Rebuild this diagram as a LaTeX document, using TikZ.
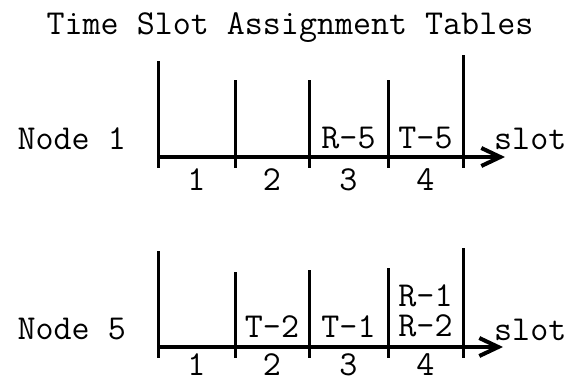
\documentclass[tikz,border=0pt]{standalone}
\usepackage{fontspec}
\usetikzlibrary{arrows.meta}
\tikzset{
  txt/.style={font=\ttfamily\fontsize{35}{30}\selectfont, anchor=base, inner sep=0pt},
  divider/.style={line width=3pt},
  timeaxis/.style={line width=4pt, -{Straight Barb[length=19pt,width=18pt]}},
}
\begin{document}
\begin{tikzpicture}[x=1pt,y=-1pt]
  \useasboundingbox (0,0) rectangle (571,383);
  \node[txt] (title) at (290,34) {Time Slot Assignment Tables};

  % table of node 1
  \coordinate (s1) at (158,157);
  \coordinate (e1) at (505,157);
  \foreach \x/\top [count=\i] in {158/61,235/80,309/80,388/80,463/55}
    \draw[divider] (\x,\top) coordinate (t1\i) -- (\x,168) coordinate (b1\i);
  \draw[timeaxis] (s1) -- (e1);
  \node[txt, anchor=base east] (n1) at (126,149) {Node 1};
  \node[txt, anchor=base west] (slot1) at (494,149) {slot};
  \node[txt] (r5) at (348.5,148) {R-5};
  \node[txt] (t5) at (425.5,148) {T-5};
  \node[txt] (c11) at (196.5,190) {1};
  \node[txt] (c12) at (272,190) {2};
  \node[txt] (c13) at (348.5,190) {3};
  \node[txt] (c14) at (425.5,190) {4};

  % table of node 5
  \coordinate (s5) at (158,347);
  \coordinate (e5) at (503,347);
  \foreach \x/\top [count=\i] in {158/251,235/272,309/270,388/268,463/248}
    \draw[divider] (\x,\top) coordinate (t5\i) -- (\x,358) coordinate (b5\i);
  \draw[timeaxis] (s5) -- (e5);
  \node[txt, anchor=base east] (n5) at (126,339) {Node 5};
  \node[txt, anchor=base west] (slot5) at (494,340) {slot};
  \node[txt] (t2) at (272,337) {T-2};
  \node[txt] (t1) at (348.5,337) {T-1};
  \node[txt, anchor=south, align=center] (r12) at (425.5,337) {R-1\\R-2};
  \node[txt] (c51) at (196.5,375) {1};
  \node[txt] (c52) at (272,375) {2};
  \node[txt] (c53) at (348.5,375) {3};
  \node[txt] (c54) at (425.5,375) {4};
\end{tikzpicture}
\end{document}
